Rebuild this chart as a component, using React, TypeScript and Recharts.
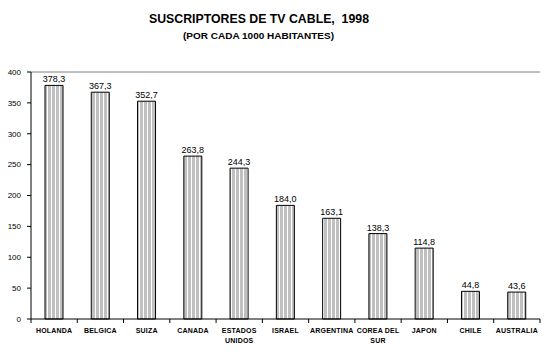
import { BarChart, Bar, XAxis, YAxis, LabelList, ReferenceLine } from "recharts";

const CATEGORIES = [
  "HOLANDA",
  "BELGICA",
  "SUIZA",
  "CANADA",
  "ESTADOS\nUNIDOS",
  "ISRAEL",
  "ARGENTINA",
  "COREA DEL\nSUR",
  "JAPON",
  "CHILE",
  "AUSTRALIA",
];
const SUBSCRIBERS = [378.3, 367.3, 352.7, 263.8, 244.3, 184.0, 163.1, 138.3, 114.8, 44.8, 43.6];
const Y_TICKS = [0, 50, 100, 150, 200, 250, 300, 350, 400];

const data = CATEGORIES.map((name, i) => ({ name, value: SUBSCRIBERS[i] }));

const W = 545;
const H = 354;
const LEFT = 31;
const RIGHT = 5;
const PLOT_W = W - LEFT - RIGHT;
const FONT = "'Liberation Sans', Arial, sans-serif";

function CategoryTick(props: any) {
  const { x, y, payload, index } = props;
  const band = PLOT_W / CATEGORIES.length;
  const lines = String(payload.value).split("\n");
  return (
    <g>
      <line x1={x - band / 2} x2={x - band / 2} y1={y} y2={y + 4} stroke="#000" />
      {index === CATEGORIES.length - 1 && (
        <line x1={x + band / 2} x2={x + band / 2} y1={y} y2={y + 4} stroke="#000" />
      )}
      <text
        x={x}
        y={y + 14}
        textAnchor="middle"
        fontFamily={FONT}
        fontSize={7}
        fontWeight="bold"
        letterSpacing={0.2}
        fill="#000"
      >
        {lines.map((l, i) => (
          <tspan key={i} x={x} dy={i === 0 ? 0 : 10}>
            {l}
          </tspan>
        ))}
      </text>
    </g>
  );
}

export default function App() {
  return (
    <div style={{ position: "relative", width: W, height: H, background: "#fff" }}>
      <style>{"body{margin:0;background:#fff}"}</style>
      <svg width={0} height={0} style={{ position: "absolute" }}>
        <defs>
          <pattern id="stripes" patternUnits="userSpaceOnUse" width={4} height={4}>
            <rect x={0} y={0} width={4} height={4} fill="#fff" />
            <rect x={0} y={0} width={3} height={4} fill="#c0c0c0" />
          </pattern>
        </defs>
      </svg>
      <svg width={W} height={50} style={{ position: "absolute", left: 0, top: 0 }}>
        <text
          x={259}
          y={23}
          textAnchor="middle"
          fontFamily={FONT}
          fontWeight="bold"
          fontSize={13}
          textLength={220}
          lengthAdjust="spacingAndGlyphs"
          style={{ whiteSpace: "pre" }}
        >
          {"SUSCRIPTORES DE TV CABLE,  1998"}
        </text>
        <text
          x={258.5}
          y={38.5}
          textAnchor="middle"
          fontFamily={FONT}
          fontWeight="bold"
          fontSize={9}
          textLength={151}
          lengthAdjust="spacingAndGlyphs"
        >
          (POR CADA 1000 HABITANTES)
        </text>
      </svg>
      <div style={{ position: "absolute", left: 0, top: 0 }}>
        <BarChart
          width={W}
          height={H}
          data={data}
          margin={{ top: 72, right: RIGHT, left: 0, bottom: 0 }}
          barCategoryGap={0}
        >
          <XAxis
            dataKey="name"
            interval={0}
            height={35}
            tickSize={0}
            tickMargin={0}
            tickLine={false}
            axisLine={{ stroke: "#000" }}
            tick={<CategoryTick />}
          />
          <YAxis
            yAxisId="left"
            domain={[0, 400]}
            ticks={Y_TICKS}
            width={LEFT}
            tickSize={4}
            tickMargin={6}
            axisLine={{ stroke: "#000" }}
            tickLine={{ stroke: "#000" }}
            tick={{ fontFamily: FONT, fontSize: 8, fill: "#000" }}
            interval={0}
          />
          <YAxis
            yAxisId="right"
            orientation="right"
            domain={[0, 400]}
            width={0}
            tick={false}
            tickLine={false}
            axisLine={{ stroke: "#808080" }}
          />
          <ReferenceLine yAxisId="left" y={400} stroke="#808080" ifOverflow="visible" />
          <Bar
            yAxisId="left"
            dataKey="value"
            barSize={18}
            fill="url(#stripes)"
            stroke="#000"
            strokeWidth={1}
            isAnimationActive={false}
          >
            <LabelList
              dataKey="value"
              position="top"
              offset={3}
              formatter={(v: any) => Number(v).toFixed(1).replace(".", ",")}
              style={{ fontFamily: FONT, fontSize: 9, fill: "#000" }}
            />
          </Bar>
        </BarChart>
      </div>
    </div>
  );
}
